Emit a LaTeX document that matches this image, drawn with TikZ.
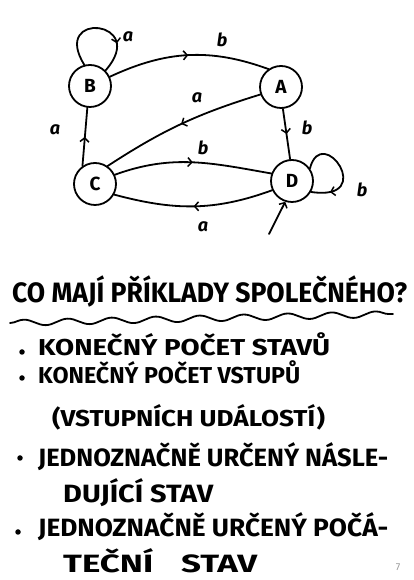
\documentclass[tikz,border=0pt]{standalone}
\usepackage{fontspec}
\setmainfont{Fira Sans}
\usepackage{graphicx}
\usetikzlibrary{arrows.meta,decorations.markings,decorations.pathmorphing}
\tikzset{
  stroke/.style={line width=1.8pt, black, line cap=round, line join=round},
  st/.style={circle, draw, line width=1.8pt, minimum size=42pt, inner sep=0pt, font=\bfseries\fontsize{19}{19}\selectfont},
  trans/.style={stroke, postaction={decorate}, decoration={markings, mark=at position #1 with {\arrow{Straight Barb[length=4pt,width=9pt,line width=1.5pt]}}}},
  trans/.default=0.5,
  elab/.style={font=\bfseries\itshape\fontsize{18}{18}\selectfont, inner sep=0pt},
  txt/.style={anchor=base west, inner sep=0pt, font=\bfseries\fontsize{23}{23}\selectfont},
  bul/.style={circle, fill, inner sep=0pt, minimum size=5.5pt},
}
\begin{document}
\begin{tikzpicture}[x=1pt,y=1pt]
\fill[white] (0,0) rectangle (413,580);
\useasboundingbox (0,0) rectangle (413,580);
% states
\node[st] (B) at (90,494) {B};
\node[st] (A) at (281,493) {A};
\node[st] (C) at (95,396) {C};
\node[st] (D) at (292,399) {D};
% transitions
\draw[trans] (B.25) to[out=25,in=160] (A.125);
\draw[trans] (A.200) to[bend right=8] (C.55);
\draw[trans] (A.-85) -- (D.95);
\draw[trans] (C.25) to[out=20,in=170] (D.160);
\draw[trans] (D.205) to[out=200,in=-15] (C.-29);
\draw[trans] (C.125) -- (B.-97);
\draw[trans=0.72] (B.105) .. controls (50,570) and (150,560) .. (B.45);
\draw[trans=0.8] (D.35) .. controls (322,458) and (378,378) .. (D.-30);
\coordinate (init) at (269,346);
\draw[stroke, -{Straight Barb[length=4pt,width=9pt,line width=1.5pt]}] (init) -- (D.-108);
% labels
\node[elab] (lBA) at (222,540) {b};
\node[elab] (lAC) at (197,482) {a};
\node[elab] (lAD) at (307,452) {b};
\node[elab] (lCD) at (203,432) {b};
\node[elab] (lDC) at (203,353) {a};
\node[elab] (lCB) at (55,450) {a};
\node[elab] (lBB) at (128,543) {a};
\node[elab] (lDD) at (362,390) {b};
% title
\node[txt, font=\bfseries\fontsize{28}{28}\selectfont] (title) at (12,277) {\resizebox{395pt}{\height}{CO MAJÍ PŘÍKLADY SPOLEČNÉHO?}};
\coordinate (ul1) at (10,257);
\coordinate (ul2) at (393,266);
\draw[stroke, decorate, decoration={snake, amplitude=3pt, segment length=44pt}] (ul1) -- (ul2);
% bullets
\node[bul] (d1) at (22,228) {};
\node[bul] (d2) at (22,202) {};
\node[bul] (d3) at (20,122) {};
\node[bul] (d4) at (18,48) {};
\node[txt] (t1) at (38,224) {\resizebox{292pt}{\height}{KONEČNÝ POČET STAVŮ}};
\node[txt] (t2) at (38,196) {\resizebox{262pt}{\height}{KONEČNÝ POČET VSTUPŮ}};
\node[txt] (t3) at (52,153) {\resizebox{273pt}{\height}{(VSTUPNÍCH UDÁLOSTÍ)}};
\node[txt, font=\bfseries\fontsize{25}{25}\selectfont] (t4) at (38,113) {\resizebox{350pt}{\height}{JEDNOZNAČNĚ URČENÝ NÁSLE-}};
\node[txt, font=\bfseries\fontsize{25}{25}\selectfont] (t5) at (63,77) {\resizebox{150pt}{\height}{DUJÍCÍ STAV}};
\node[txt, font=\bfseries\fontsize{25}{25}\selectfont] (t6) at (38,43) {\resizebox{350pt}{\height}{JEDNOZNAČNĚ URČENÝ POČÁ-}};
\node[txt, font=\bfseries\fontsize{25}{25}\selectfont] (t7) at (63,8) {\resizebox{194pt}{\height}{TEČNÍ \hspace{14pt}STAV}};
\node[font=\fontsize{10}{10}\selectfont, text=black!40, inner sep=0pt] (pg) at (398,13) {7};
\end{tikzpicture}
\end{document}
